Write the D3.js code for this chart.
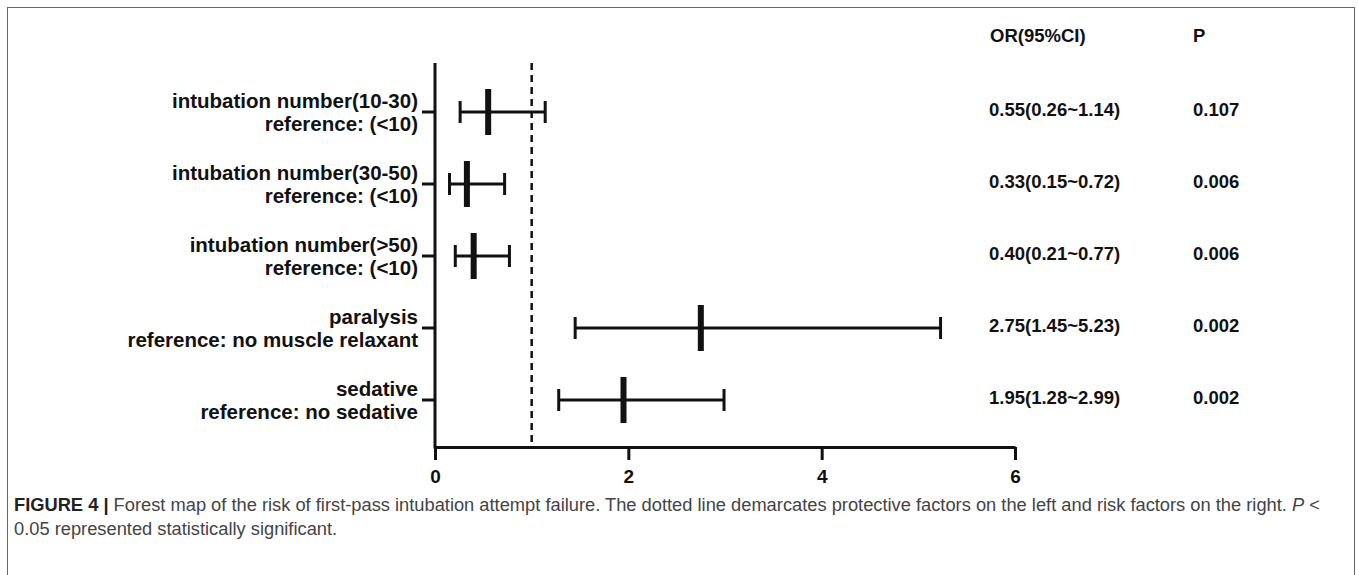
<!DOCTYPE html>
<html>
<head>
<meta charset="utf-8">
<script src="https://cdn.jsdelivr.net/npm/d3@7"></script>
<style>
  body { margin: 0; background: #fff; }
  .lab { font-family: "Liberation Sans", Arial, Helvetica, sans-serif; font-weight: bold; fill: #111; }
  .cap { font-family: "Liberation Sans", Arial, Helvetica, sans-serif; fill: #444; font-size: 18.3px; }
</style>
</head>
<body>
<div id="chart"></div>
<script>
// Forest plot data
var labelTop = ["intubation number(10-30)", "intubation number(30-50)", "intubation number(>50)", "paralysis", "sedative"];
var labelBottom = ["reference: (<10)", "reference: (<10)", "reference: (<10)", "reference: no muscle relaxant", "reference: no sedative"];
var orValues = [0.55, 0.33, 0.40, 2.75, 1.95];
var ciLow = [0.26, 0.15, 0.21, 1.45, 1.28];
var ciHigh = [1.14, 0.72, 0.77, 5.23, 2.99];
var orText = ["0.55(0.26~1.14)", "0.33(0.15~0.72)", "0.40(0.21~0.77)", "2.75(1.45~5.23)", "1.95(1.28~2.99)"];
var pText = ["0.107", "0.006", "0.006", "0.002", "0.002"];
var xTicks = [0, 2, 4, 6];

var width = 1358, height = 575;

var svg = d3.select("#chart").append("svg")
  .attr("width", width)
  .attr("height", height);

// outer frame (runs off the bottom of the page)
svg.append("rect")
  .attr("x", 7.5).attr("y", 7.5)
  .attr("width", 1347).attr("height", 600)
  .attr("fill", "none")
  .attr("stroke", "#666")
  .attr("stroke-width", 1);

// scales
var x = d3.scaleLinear().domain([0, 6]).range([435, 1015]);
var y = d3.scalePoint().domain(d3.range(labelTop.length)).range([112, 400]);
var yTop = 63, yBottom = 447;

// x axis
var bottomAxis = d3.axisBottom(x)
  .tickValues(xTicks)
  .tickFormat(d3.format("d"))
  .tickSize(13)
  .tickSizeOuter(0)
  .tickPadding(10);
var gx = svg.append("g")
  .attr("transform", `translate(0, ${yBottom})`)
  .call(bottomAxis);
gx.select(".domain").attr("stroke-width", 3).attr("stroke", "#111");
gx.selectAll(".tick line").attr("stroke-width", 3).attr("stroke", "#111");
gx.selectAll(".tick text")
  .attr("class", "lab")
  .attr("font-size", 19)
  .attr("fill", "#111");

// y axis line
svg.append("line")
  .attr("x1", x(0)).attr("x2", x(0))
  .attr("y1", yTop).attr("y2", yBottom + 1.5)
  .attr("stroke", "#111")
  .attr("stroke-width", 3);

// y ticks
svg.selectAll(".ytick")
  .data(d3.range(labelTop.length))
  .enter().append("line")
  .attr("x1", x(0) - 13).attr("x2", x(0))
  .attr("y1", d => y(d)).attr("y2", d => y(d))
  .attr("stroke", "#111")
  .attr("stroke-width", 3);

// labels, two lines each
var labs = svg.selectAll(".rowlab")
  .data(d3.range(labelTop.length))
  .enter().append("text")
  .attr("class", "lab")
  .attr("text-anchor", "end")
  .attr("font-size", 20.5);
labs.append("tspan")
  .attr("x", 418).attr("y", d => y(d) - 4.5)
  .text(d => labelTop[d]);
labs.append("tspan")
  .attr("x", 418).attr("y", d => y(d) + 19)
  .text(d => labelBottom[d]);

// reference line at OR = 1
svg.append("line")
  .attr("x1", x(1)).attr("x2", x(1))
  .attr("y1", yTop).attr("y2", yBottom)
  .attr("stroke", "#111")
  .attr("stroke-width", 2.5)
  .attr("stroke-dasharray", "7,5");

// whiskers
var rows = svg.selectAll(".row")
  .data(d3.range(orValues.length))
  .enter().append("g");

rows.append("line")
  .attr("x1", d => x(ciLow[d])).attr("x2", d => x(ciHigh[d]))
  .attr("y1", d => y(d)).attr("y2", d => y(d))
  .attr("stroke", "#111").attr("stroke-width", 3);

rows.append("line")
  .attr("x1", d => x(ciLow[d])).attr("x2", d => x(ciLow[d]))
  .attr("y1", d => y(d) - 11).attr("y2", d => y(d) + 11)
  .attr("stroke", "#111").attr("stroke-width", 3);

rows.append("line")
  .attr("x1", d => x(ciHigh[d])).attr("x2", d => x(ciHigh[d]))
  .attr("y1", d => y(d) - 11).attr("y2", d => y(d) + 11)
  .attr("stroke", "#111").attr("stroke-width", 3);

// point estimates as thick bars
rows.append("rect")
  .attr("x", d => x(orValues[d]) - 3)
  .attr("y", d => y(d) - 23)
  .attr("width", 6).attr("height", 46)
  .attr("fill", "#111");

// right-hand table
svg.append("text").attr("class", "lab").attr("font-size", 18.5)
  .attr("x", 990).attr("y", 42).text("OR(95%CI)");
svg.append("text").attr("class", "lab").attr("font-size", 18.5)
  .attr("x", 1193).attr("y", 42).text("P");

svg.selectAll(".ortext")
  .data(orText)
  .enter().append("text")
  .attr("class", "lab").attr("font-size", 18.5)
  .attr("x", 989).attr("y", (d, i) => y(i) + 4)
  .text(d => d);

svg.selectAll(".ptext")
  .data(pText)
  .enter().append("text")
  .attr("class", "lab").attr("font-size", 18.5)
  .attr("x", 1193).attr("y", (d, i) => y(i) + 4)
  .text(d => d);

// caption
var cap = svg.append("text").attr("class", "cap").attr("x", 14).attr("y", 511);
cap.append("tspan").attr("font-weight", "bold").attr("fill", "#222").text("FIGURE 4 | ");
cap.append("tspan").text("Forest map of the risk of first-pass intubation attempt failure. The dotted line demarcates protective factors on the left and risk factors on the right. ");
cap.append("tspan").attr("font-style", "italic").text("P");
cap.append("tspan").text(" <");
svg.append("text").attr("class", "cap").attr("x", 14).attr("y", 535)
  .text("0.05 represented statistically significant.");
</script>
</body>
</html>
